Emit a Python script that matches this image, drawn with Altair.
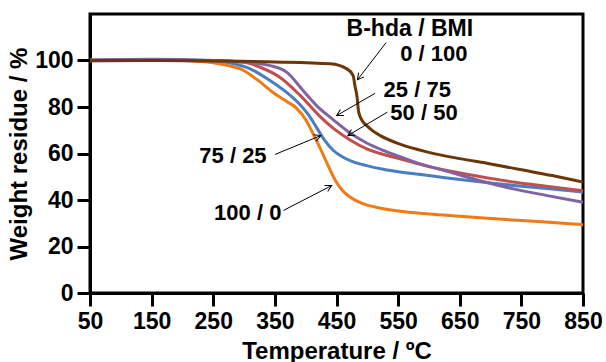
import math
import altair as alt
import pandas as pd

# ---- data ----
series_names = ["100 / 0", "75 / 25", "50 / 50", "25 / 75", "0 / 100"]
series_colors = ["#F07A14", "#4A7EC2", "#C0504D", "#8064A2", "#6B3608"]

t_100_0 = [50, 150, 200, 250, 275, 295, 325, 348, 370, 385, 400, 412, 424, 436, 448, 460, 472, 485, 500, 520, 550, 600, 650, 700, 750, 800, 850]
w_100_0 = [100.2, 100.3, 100.0, 99.0, 97.8, 96.3, 91.0, 86.0, 82.3, 79.5, 74.5, 68.5, 62.0, 55.0, 48.5, 44.0, 41.3, 39.3, 37.8, 36.6, 35.3, 34.0, 33.0, 32.0, 31.2, 30.3, 29.4]

t_75_25 = [50, 150, 250, 280, 310, 342, 375, 391, 405, 418, 430, 445, 460, 475, 499, 526, 553, 600, 650, 700, 750, 800, 850]
w_75_25 = [100.2, 100.5, 100.0, 98.8, 96.4, 91.4, 85.0, 81.0, 76.5, 71.0, 66.0, 61.3, 58.5, 56.6, 54.8, 53.2, 52.0, 50.5, 48.8, 47.3, 45.9, 44.7, 43.4]

t_50_50 = [50, 150, 250, 300, 326, 358, 391, 423, 445, 472, 499, 521, 553, 590, 629, 680, 737, 790, 850]
w_50_50 = [100.0, 100.2, 100.0, 99.2, 97.1, 92.8, 85.0, 76.0, 70.8, 65.8, 62.0, 60.0, 57.7, 55.0, 52.7, 50.2, 47.7, 45.9, 44.0]

t_25_75 = [50, 150, 250, 300, 342, 369, 396, 418, 445, 472, 499, 526, 553, 575, 630, 680, 737, 790, 850]
w_25_75 = [99.8, 100.0, 99.9, 99.3, 97.8, 95.0, 87.0, 80.5, 74.5, 68.8, 64.5, 61.3, 58.6, 56.5, 52.3, 48.5, 44.8, 42.0, 39.0]

t_0_100 = [50, 150, 250, 350, 440, 467, 477, 480, 483, 486, 492, 499, 510, 521, 553, 600, 650, 700, 750, 800, 850]
w_0_100 = [100.0, 100.0, 99.8, 99.4, 98.6, 96.4, 93.5, 89.0, 85.0, 77.8, 74.0, 72.0, 69.5, 67.7, 64.0, 60.5, 57.8, 55.5, 53.0, 50.5, 47.7]

x_ticks = [50, 150, 250, 350, 450, 550, 650, 750, 850]
y_ticks = [0, 20, 40, 60, 80, 100]

label_texts = ["B-hda / BMI", "0 / 100", "25 / 75", "50 / 50", "75 / 25", "100 / 0"]
label_t = [569, 608, 581, 592, 282, 306]
label_w = [113.5, 103.0, 87.3, 77.4, 59.0, 34.5]
label_sizes = [23, 22, 22, 22, 22, 22]

arrow_t_start = [530.5, 512.7, 532.6, 350.3, 363.8]
arrow_w_start = [107.7, 85.9, 77.8, 59.6, 35.5]
arrow_t_tip = [484.0, 450.3, 468.3, 424.5, 442.2]
arrow_w_tip = [91.7, 76.3, 67.7, 67.7, 46.2]

# ---- build tables ----
all_t = [t_100_0, t_75_25, t_50_50, t_25_75, t_0_100]
all_w = [w_100_0, w_75_25, w_50_50, w_25_75, w_0_100]
rows = []
for name, ts, ws in zip(series_names, all_t, all_w):
    for t, w in zip(ts, ws):
        rows.append({"series": name, "T": t, "W": w})
df = pd.DataFrame(rows)

W_PX, H_PX = 493, 279
X_DOM, Y_DOM = [50, 850], [0, 120]
sx = W_PX / (X_DOM[1] - X_DOM[0])
sy = H_PX / (Y_DOM[1] - Y_DOM[0])

arr = pd.DataFrame({"x": arrow_t_start, "y": arrow_w_start, "x2": arrow_t_tip, "y2": arrow_w_tip})
arr["ang"] = [
    math.degrees(math.atan2(-(r.y2 - r.y) * sy, (r.x2 - r.x) * sx)) % 360 for r in arr.itertuples()
]
labels = pd.DataFrame({"text": label_texts, "T": label_t, "W": label_w, "fs": label_sizes})

FONT = "Liberation Sans"
xscale = alt.Scale(domain=X_DOM, nice=False, zero=False)
yscale = alt.Scale(domain=Y_DOM, nice=False)

layers = []
for i, name in enumerate(series_names):
    layers.append(
        alt.Chart(df[df.series == name]).mark_line(
            strokeWidth=3, interpolate="monotone", color=series_colors[i]
        ).encode(
            x=alt.X("T:Q", scale=xscale, axis=alt.Axis(
                values=x_ticks, title="Temperature / ºC", grid=False, titlePadding=6)),
            y=alt.Y("W:Q", scale=yscale, axis=alt.Axis(
                values=y_ticks, title="Weight residue / %", grid=False, titlePadding=3)),
        )
    )

rules = alt.Chart(arr).mark_rule(color="black", strokeWidth=1).encode(
    x="x:Q", y="y:Q", x2="x2:Q", y2="y2:Q"
)
heads = alt.Chart(arr).mark_point(
    shape="M -1 -0.55 L 0 0 L -1 0.55", filled=False, color="black", strokeWidth=1,
    size=160, opacity=1
).encode(x="x2:Q", y="y2:Q", angle=alt.Angle("ang:Q", scale=None))

texts = alt.Chart(labels).mark_text(
    font=FONT, fontWeight="bold", color="black", align="center", baseline="middle"
).encode(x="T:Q", y="W:Q", text="text:N", size=alt.Size("fs:Q", scale=None))

chart = alt.layer(*layers, rules, heads, texts).properties(
    width=W_PX, height=H_PX,
    autosize=alt.AutoSizeParams(type="none"),
    padding={"left": 90, "top": 14, "right": 23, "bottom": 69},
    background="white",
).configure_view(
    stroke="black", strokeWidth=3
).configure_axis(
    labelFont=FONT, labelFontWeight="bold", labelFontSize=23, labelColor="black",
    titleFont=FONT, titleFontWeight="bold", titleFontSize=24, titleColor="black",
    domainColor="black", domainWidth=3, tickColor="black", tickWidth=3, tickSize=13,
    labelPadding=4, labelFlush=False, labelOverlap=False,
)

chart.save("out.html", embed_options={"renderer": "svg", "actions": False})
